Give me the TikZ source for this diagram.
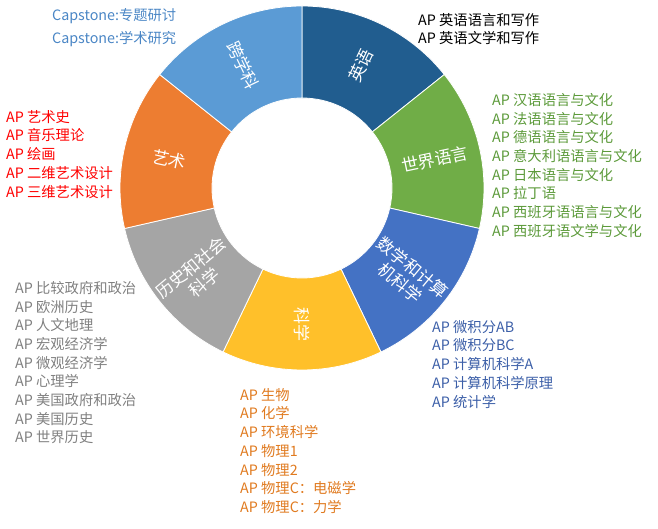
\documentclass[tikz,border=0pt]{standalone}
\usepackage{fontspec}
\setmainfont{Noto Sans CJK SC}
\begin{document}
\begin{tikzpicture}[x=1pt,y=-1pt,
  lst/.style={anchor=north west,align=left,font=\fontsize{14.3}{18.7}\selectfont,inner sep=0pt},
  seg/.style={text=white,font=\fontsize{17}{20}\selectfont,align=center,inner sep=0pt}]
\useasboundingbox (0,0) rectangle (658,529);
\def\Ro{182}\def\Ri{90}
\definecolor{cEng}{HTML}{215D8F}
\definecolor{cWld}{HTML}{70AD47}
\definecolor{cMat}{HTML}{4472C4}
\definecolor{cSci}{HTML}{FFC02A}
\definecolor{cHis}{HTML}{A5A5A5}
\definecolor{cArt}{HTML}{ED7D31}
\definecolor{cInt}{HTML}{5B9BD5}
\begin{scope}[shift={(302,188)},y=1pt]
\foreach \col [count=\i from 0] in {cEng,cWld,cMat,cSci,cHis,cArt,cInt}{
  \pgfmathsetmacro\a{90-\i*360/7}
  \pgfmathsetmacro\b{90-(\i+1)*360/7}
  \fill[\col,draw=white,line width=0.8pt] (\a:\Ro) arc[start angle=\a,end angle=\b,radius=\Ro]
    -- (\b:\Ri) arc[start angle=\b,end angle=\a,radius=\Ri] -- cycle;
}
\node[seg,rotate=64.3] (sEng) at (64.3:136) {英语};
\node[seg,rotate=12.1] (sWld) at (12.1:136) {世界语言};
\node[seg,rotate=-39.9] (sMat) at (-39.9:136) {数学和计算\\机科学};
\node[seg,rotate=-90] (sSci) at (-90:136) {科学};
\node[seg,rotate=39.9] (sHis) at (-140.1:136) {历史和社会\\科学};
\node[seg,rotate=-12.1] (sArt) at (167.9:136) {艺术};
\node[seg,rotate=-64.3] (sInt) at (115.7:136) {跨学科};
\end{scope}
\node[lst,font=\fontsize{14.3}{23.5}\selectfont,text={rgb,255:red,74;green,134;blue,197}] (lInt) at (52,8) {Capstone:专题研讨\\Capstone:学术研究};
\node[lst,text=black] (lEng) at (418,13) {AP 英语语言和写作\\AP 英语文学和写作};
\node[lst,text={rgb,255:red,92;green,154;blue,58}] (lWld) at (492,93) {AP 汉语语言与文化\\AP 法语语言与文化\\AP 德语语言与文化\\AP 意大利语语言与文化\\AP 日本语言与文化\\AP 拉丁语\\AP 西班牙语语言与文化\\AP 西班牙语文学与文化};
\node[lst,text={rgb,255:red,60;green,95;blue,168}] (lMat) at (432,320) {AP 微积分AB\\AP 微积分BC\\AP 计算机科学A\\AP 计算机科学原理\\AP 统计学};
\node[lst,text={rgb,255:red,224;green,122;blue,31}] (lSci) at (240,388) {AP 生物\\AP 化学\\AP 环境科学\\AP 物理1\\AP 物理2\\AP 物理C：电磁学\\AP 物理C：力学};
\node[lst,text={rgb,255:red,128;green,128;blue,128}] (lHis) at (15,281) {AP 比较政府和政治\\AP 欧洲历史\\AP 人文地理\\AP 宏观经济学\\AP 微观经济学\\AP 心理学\\AP 美国政府和政治\\AP 美国历史\\AP 世界历史};
\node[lst,text=red] (lArt) at (6,110) {AP 艺术史\\AP 音乐理论\\AP 绘画\\AP 二维艺术设计\\AP 三维艺术设计};
\end{tikzpicture}
\end{document}
